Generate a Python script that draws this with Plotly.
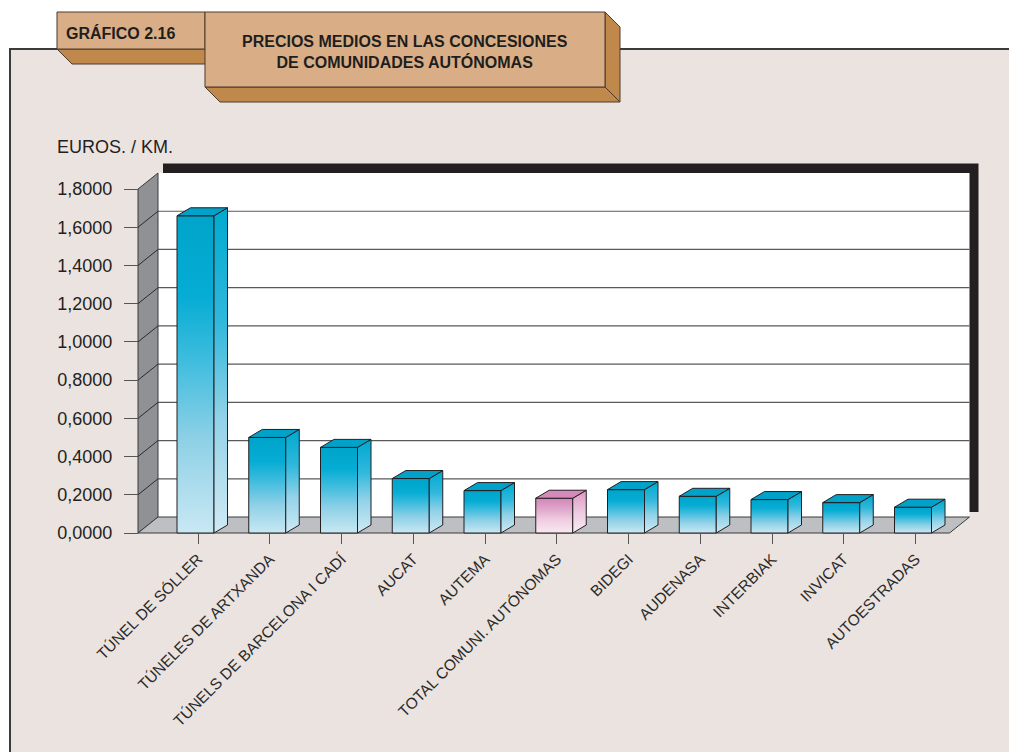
import plotly.graph_objects as go

# ---------------- data ----------------
CATEGORIES = [
    "TÚNEL DE SÓLLER",
    "TÚNELES DE ARTXANDA",
    "TÚNELS DE BARCELONA I CADÍ",
    "AUCAT",
    "AUTEMA",
    "TOTAL COMUNI. AUTÓNOMAS",
    "BIDEGI",
    "AUDENASA",
    "INTERBIAK",
    "INVICAT",
    "AUTOESTRADAS",
]
VALUES = [1.660, 0.500, 0.448, 0.285, 0.222, 0.182, 0.227, 0.192, 0.175, 0.159, 0.135]
HIGHLIGHT = "TOTAL COMUNI. AUTÓNOMAS"
Y_TICKS = [0.0, 0.2, 0.4, 0.6, 0.8, 1.0, 1.2, 1.4, 1.6, 1.8]
Y_TICK_LABELS = ["0,0000", "0,2000", "0,4000", "0,6000", "0,8000",
                 "1,0000", "1,2000", "1,4000", "1,6000", "1,8000"]
Y_MAX = 1.8
UNITS = "EUROS. / KM."
CHART_NO = "GRÁFICO 2.16"
CHART_TITLE = "PRECIOS MEDIOS EN LAS CONCESIONES<br>DE COMUNIDADES AUTÓNOMAS"

# ---------------- layout calibration (pixels) ----------------
W, H = 1009, 752
X0_PX, X_STEP = 198.0, 71.75      # pixel of first category, pixels per category
Y0_PX, Y_SCALE = 533.0, 191.1     # pixel of value 0, pixels per unit
UX, UY = 1.0 / X_STEP, 1.0 / Y_SCALE

FONT = "Liberation Sans, Arial, Helvetica, sans-serif"
FONT_NARROW = "Liberation Sans Narrow, Arial Narrow, Liberation Sans, sans-serif"
INK = "#231f20"

n = len(CATEGORIES)
xl = -60 * UX                  # front-left of floor / left wall
xr = (n - 1) + 34 * UX         # front-right of floor
wdx, wdy = 20 * UX, 16 * UY    # wall depth
bl, br = 21 * UX, 16 * UX      # bar front extents around category
bdx, bdy = 13.5 * UX, 8 * UY   # bar depth

fig = go.Figure()


def poly(xs, ys, fill=None, grad=None, line_color=INK, width=1.0):
    xs = list(xs) + [xs[0]]
    ys = list(ys) + [ys[0]]
    kw = dict(x=xs, y=ys, mode="lines", fill="toself",
              line=dict(color=line_color, width=width),
              hoverinfo="skip", showlegend=False)
    if grad is not None:
        kw["fillgradient"] = dict(type="vertical", colorscale=grad)
    else:
        kw["fillcolor"] = fill
    fig.add_trace(go.Scatter(**kw))


# shadow behind back wall
bx0, bx1 = xl + wdx, xr + wdx
poly([bx0 + 5 * UX, bx1 + 9 * UX, bx1 + 9 * UX, bx0 + 5 * UX],
     [wdy + 5 * UY, wdy + 5 * UY, Y_MAX + wdy + 9.5 * UY, Y_MAX + wdy + 9.5 * UY],
     fill=INK, line_color=INK, width=0)
# back wall
poly([bx0, bx1, bx1, bx0], [wdy, wdy, Y_MAX + wdy, Y_MAX + wdy],
     fill="#ffffff", line_color="#ffffff", width=0)

# gridlines on back wall
gx, gy = [], []
for v in Y_TICKS[1:-1]:
    gx += [bx0, bx1, None]
    gy += [v + wdy, v + wdy, None]
fig.add_trace(go.Scatter(x=gx, y=gy, mode="lines", line=dict(color="#5a5a5a", width=1.2),
                         hoverinfo="skip", showlegend=False))

# left wall
poly([xl, bx0, bx0, xl], [0, wdy, Y_MAX + wdy, Y_MAX], fill="#8f9195", line_color="#3a3a3a")
dx_, dy_ = [], []
for v in Y_TICKS[1:-1]:
    dx_ += [xl, bx0, None]
    dy_ += [v, v + wdy, None]
fig.add_trace(go.Scatter(x=dx_, y=dy_, mode="lines", line=dict(color="#2a2a2a", width=1),
                         hoverinfo="skip", showlegend=False))

# floor
poly([xl, xr, bx1, bx0], [0, 0, wdy, wdy], fill="#bebfc2", line_color="#3a3a3a")

# bars
CYAN_FRONT = [[0, "#c9e8f3"], [0.3, "#8dd0e6"], [0.55, "#3dbcde"], [0.75, "#05acd3"], [1, "#00a4cb"]]
CYAN_SIDE = [[0, "#cfeaf4"], [0.35, "#93d2e8"], [0.65, "#2fb8dc"], [1, "#00a9cf"]]
PINK_FRONT = [[0, "#f8e9f2"], [0.4, "#eecbe0"], [0.75, "#dd9fc7"], [1, "#d486b8"]]
PINK_SIDE = [[0, "#f9ecf4"], [0.45, "#efcde2"], [1, "#db98c3"]]

for i, (cat, v) in enumerate(zip(CATEGORIES, VALUES)):
    hi = cat == HIGHLIGHT
    front = PINK_FRONT if hi else CYAN_FRONT
    side = PINK_SIDE if hi else CYAN_SIDE
    topc = "#d58abb" if hi else "#00a2c9"
    x0, x1 = i - bl, i + br
    poly([x0, x1, x1, x0], [0, 0, v, v], grad=front)
    poly([x1, x1 + bdx, x1 + bdx, x1], [0, bdy, v + bdy, v], grad=side)
    poly([x0, x1, x1 + bdx, x0 + bdx], [v, v, v + bdy, v + bdy], fill=topc)

# ---------------- axes ----------------
fig.update_xaxes(
    range=[(0 - X0_PX) * UX, (W - X0_PX) * UX],
    anchor="free", position=(H - Y0_PX) / H,
    tickmode="array", tickvals=list(range(n)), ticktext=CATEGORIES,
    tickangle=-45, ticks="outside", ticklen=10, tickcolor="#555555", tickwidth=1,
    tickfont=dict(family=FONT, size=15.5, color="#2a2a2a"),
    showgrid=False, zeroline=False, showline=False, automargin=False, fixedrange=True,
)
fig.update_yaxes(
    range=[(Y0_PX - H) * UY, Y0_PX * UY],
    anchor="free", position=138.0 / W, side="left",
    tickmode="array", tickvals=Y_TICKS, ticktext=Y_TICK_LABELS,
    ticks="outside", ticklen=14, tickcolor="#555555", tickwidth=1,
    ticklabelstandoff=8,
    tickfont=dict(family=FONT, size=18, color=INK),
    showgrid=False, zeroline=False, showline=False, automargin=False, fixedrange=True,
)


def px(xp):
    return xp / W


def py(yp):
    return 1 - yp / H


def path(points):
    return "M " + " L ".join(f"{px(a):.5f},{py(b):.5f}" for a, b in points) + " Z"


TAN, BROWN, EDGE = "#d9ae86", "#c1884c", "#4a3b2e"
shapes = [
    # panel
    dict(type="rect", xref="paper", yref="paper", x0=px(10), x1=px(1025), y0=py(770), y1=py(49),
         fillcolor="#ebe3df", line=dict(color="#3b3b3b", width=2), layer="below"),
    # box 1 bottom face + front
    dict(type="path", xref="paper", yref="paper", path=path([(57, 49), (205, 49), (220, 64), (72, 64)]),
         fillcolor=BROWN, line=dict(color=EDGE, width=1), layer="above"),
    dict(type="path", xref="paper", yref="paper", path=path([(57, 12), (205, 12), (205, 49), (57, 49)]),
         fillcolor=TAN, line=dict(color=EDGE, width=1), layer="above"),
    # box 2 faces
    dict(type="path", xref="paper", yref="paper", path=path([(205, 87), (605, 87), (620, 102), (220, 102)]),
         fillcolor=BROWN, line=dict(color=EDGE, width=1), layer="above"),
    dict(type="path", xref="paper", yref="paper", path=path([(605, 12), (620, 27), (620, 102), (605, 87)]),
         fillcolor=BROWN, line=dict(color=EDGE, width=1), layer="above"),
    dict(type="path", xref="paper", yref="paper", path=path([(205, 12), (605, 12), (605, 87), (205, 87)]),
         fillcolor=TAN, line=dict(color=EDGE, width=1), layer="above"),
]

annotations = [
    dict(text=f"<b>{CHART_NO}</b>", xref="paper", yref="paper", x=px(64), y=py(33),
         xanchor="left", yanchor="middle", showarrow=False,
         font=dict(family=FONT_NARROW, size=16, color="#1e1e1e")),
    dict(text=f"<b>{CHART_TITLE}</b>", xref="paper", yref="paper", x=px(405), y=py(52),
         xanchor="center", yanchor="middle", showarrow=False,
         font=dict(family=FONT_NARROW, size=16, color="#1e1e1e")),
    dict(text=UNITS, xref="paper", yref="paper", x=px(55), y=py(147),
         xanchor="left", yanchor="middle", showarrow=False,
         font=dict(family=FONT, size=18, color=INK)),
]

fig.update_layout(
    width=W, height=H, margin=dict(l=0, r=0, t=0, b=0),
    paper_bgcolor="#ffffff", plot_bgcolor="rgba(0,0,0,0)",
    shapes=shapes, annotations=annotations, showlegend=False,
)

fig.write_html(
    "out.html",
    config={"displayModeBar": False},
    post_script="document.body.style.margin='0';document.body.style.overflow='hidden';",
)
